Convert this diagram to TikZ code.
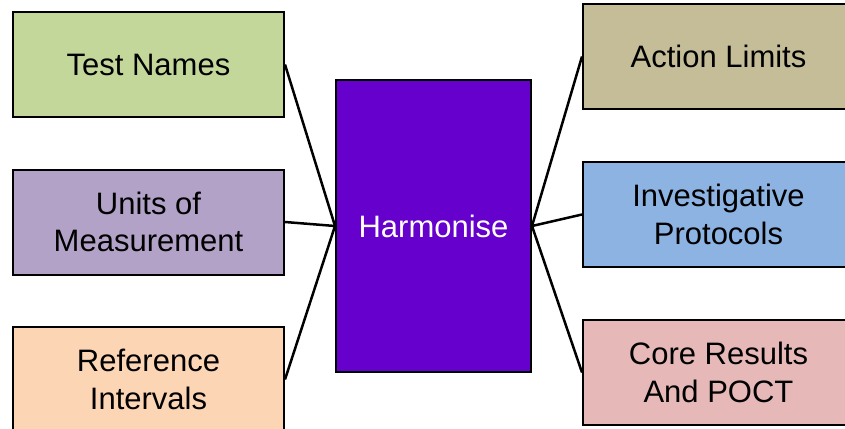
\documentclass[tikz,border=0pt]{standalone}
\usepackage{fontspec}
\setmainfont{Liberation Sans}
\definecolor{cTest}{HTML}{C4D79B}
\definecolor{cUnits}{HTML}{B3A2C7}
\definecolor{cRef}{HTML}{FCD5B5}
\definecolor{cAct}{HTML}{C4BD97}
\definecolor{cInv}{HTML}{8DB3E2}
\definecolor{cCore}{HTML}{E6B9B8}
\definecolor{cHarm}{HTML}{6600CC}
\begin{document}
\begin{tikzpicture}[x=1pt,y=-1pt,
  box/.style={draw=black,line width=2pt,minimum width=271pt,minimum height=105pt,inner sep=0pt,
    align=center,font=\fontsize{31}{37.5}\selectfont,text=black},
  link/.style={line width=2.5pt,draw=black}]
\path[use as bounding box,clip] (0,0) rectangle (845,428);
\node[box,fill=cHarm,text=white,minimum width=195pt,minimum height=292pt] (h) at (433.5,226) {Harmonise};
\node[box,fill=cTest] (t) at (148.5,64.5) {Test Names};
\node[box,fill=cUnits] (u) at (148.5,222) {Units of\\Measurement};
\node[box,fill=cRef] (r) at (148.5,379.5) {Reference\\Intervals};
\node[box,fill=cAct] (a) at (718.5,56.5) {Action Limits};
\node[box,fill=cInv] (i) at (718.5,214.5) {Investigative\\Protocols};
\node[box,fill=cCore] (c) at (718.5,372.5) {Core Results\\And POCT};
\draw[link] (t.east) -- (h.west);
\draw[link] (u.east) -- (h.west);
\draw[link] (r.east) -- (h.west);
\draw[link] (a.west) -- (h.east);
\draw[link] (i.west) -- (h.east);
\draw[link] (c.west) -- (h.east);
\end{tikzpicture}
\end{document}
